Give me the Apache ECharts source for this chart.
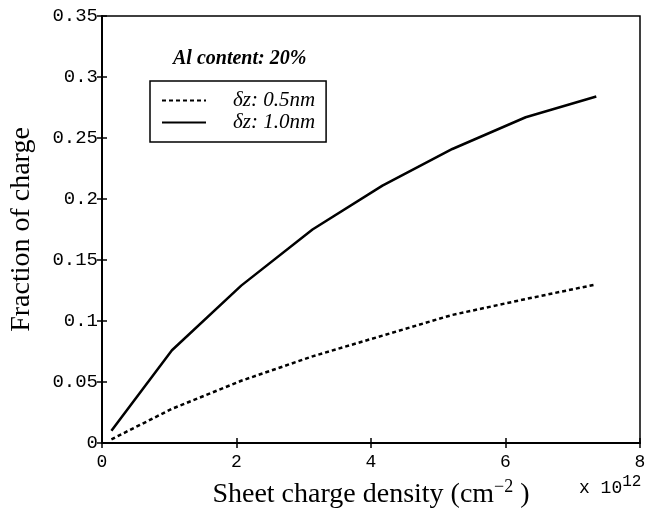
<!DOCTYPE html>
<html>
<head>
<meta charset="utf-8">
<script src="https://cdn.jsdelivr.net/npm/echarts@6/dist/echarts.min.js"></script>
<style>
  html, body { margin: 0; padding: 0; background: #fff; }
  #chart { width: 649px; height: 516px; }
</style>
</head>
<body>
<div id="chart"></div>
<script>
// sheet charge density (x 10^12 cm^-2)
const density = [0.14, 1.04, 2.07, 3.13, 4.17, 5.21, 6.3, 7.35];
// fraction of charge, dz = 0.5nm and 1.0nm
const frac05 = [0.003, 0.028, 0.051, 0.071, 0.088, 0.105, 0.118, 0.130];
const frac10 = [0.010, 0.076, 0.129, 0.175, 0.211, 0.241, 0.267, 0.284];
const seriesNames = ["δz: 0.5nm", "δz: 1.0nm"];

const mono = "Liberation Mono";
const serif = "Liberation Serif";

function pairs(xs, ys) {
  return xs.map((x, i) => [x, ys[i]]);
}

const chart = echarts.init(document.getElementById("chart"));

const option = {
  backgroundColor: "#fff",
  animation: false,
  grid: {
    left: 100, right: 9, top: 16, bottom: 73,
    show: true, borderColor: "#000", borderWidth: 1.5
  },
  title: {
    text: "Al content: 20%",
    left: 168, top: 44,
    textStyle: { fontFamily: serif, fontStyle: "italic", fontWeight: "bold", fontSize: 20, color: "#000" }
  },
  legend: {
    orient: "vertical",
    left: 150, top: 81,
    backgroundColor: "#fff",
    borderColor: "#000", borderWidth: 1.5, borderRadius: 0,
    padding: [9, 11, 9, 11],
    itemWidth: 44, itemHeight: 10, itemGap: 1,
    itemStyle: { color: "rgba(0,0,0,0)", borderWidth: 0 },
    textStyle: {
      fontFamily: serif, fontStyle: "italic", fontSize: 21, color: "#000",
      padding: [0, 0, 0, 22]
    },
    data: seriesNames
  },
  xAxis: [
    {
      type: "value", min: 0, max: 8, interval: 2,
      axisLine: { lineStyle: { color: "#000", width: 2 } },
      axisTick: { inside: true, length: 5, lineStyle: { color: "#000", width: 1.5 } },
      splitLine: { show: false },
      axisLabel: { fontFamily: mono, fontSize: 18, color: "#000", margin: 10 },
      name: "Sheet charge density (cm{sup|−2}{sp| })",
      nameLocation: "middle", nameGap: 35,
      nameTextStyle: {
        fontFamily: serif, fontSize: 28, color: "#000",
        rich: {
          sup: { fontFamily: serif, fontSize: 18, verticalAlign: "top", padding: [0, 0, 16, 0], color: "#000" },
          sp: { fontFamily: serif, fontSize: 28 }
        }
      }
    },
    {
      type: "value", position: "top", min: 0, max: 8, interval: 2,
      axisLine: { show: false },
      axisTick: { inside: true, length: 5, lineStyle: { color: "#000", width: 1.5 } },
      axisLabel: { show: false }, splitLine: { show: false }
    }
  ],
  yAxis: [
    {
      type: "value", min: 0, max: 0.35, interval: 0.05,
      axisLine: { show: true, lineStyle: { color: "#000", width: 2 } },
      axisTick: { show: true, inside: true, length: 5, lineStyle: { color: "#000", width: 1.5 } },
      splitLine: { show: false },
      axisLabel: { fontFamily: mono, fontSize: 19, color: "#000", margin: 4 },
      name: "Fraction of charge",
      nameLocation: "middle", nameGap: 66,
      nameTextStyle: { fontFamily: serif, fontSize: 28, color: "#000" }
    },
    {
      type: "value", position: "right", min: 0, max: 0.35, interval: 0.05,
      axisLine: { show: false },
      axisTick: { show: true, inside: true, length: 5, lineStyle: { color: "#000", width: 1.5 } },
      axisLabel: { show: false }, splitLine: { show: false }
    }
  ],
  graphic: [
    {
      type: "text", left: 579, top: 474,
      style: {
        text: "x 10{sup|12}",
        font: "18px " + mono, fill: "#000",
        rich: { sup: { font: "16px " + mono, fill: "#000", padding: [0, 0, 12, 0] } }
      }
    }
  ],
  series: [
    {
      name: seriesNames[0], type: "line", data: pairs(density, frac05),
      symbol: "none", smooth: false,
      lineStyle: { color: "#000", width: 2.5, type: [4, 3] },
      itemStyle: { color: "#000" }
    },
    {
      name: seriesNames[1], type: "line", data: pairs(density, frac10),
      symbol: "none", smooth: false,
      lineStyle: { color: "#000", width: 2.5, type: "solid" },
      itemStyle: { color: "#000" }
    }
  ]
};

chart.setOption(option);
</script>
</body>
</html>
